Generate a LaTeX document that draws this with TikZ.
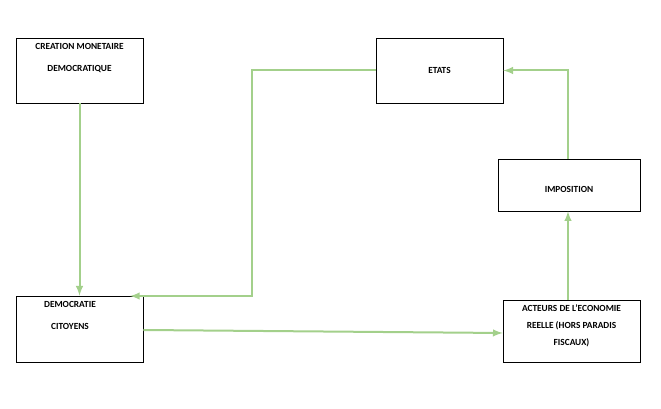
\documentclass[tikz,border=0pt]{standalone}
\usepackage{fontspec}
\setmainfont{Carlito}
\usetikzlibrary{positioning}
\definecolor{LINKGREEN}{HTML}{A3D08B}
\tikzset{
	box/.style = {draw=black, thin, fill=white, inner sep=0pt},
	txt/.style = {font=\fontsize{7}{16.5}\selectfont\bfseries, align=center, inner sep=0pt},
	link/.style = {draw=LINKGREEN, line width=1.5pt, -latex}
}
\begin{document}
\begin{tikzpicture}[x=0.75pt, y=-0.75pt]
		\useasboundingbox (0,0) rectangle (661,409);
		% boxes
		\node[box, minimum width=127*0.75pt, minimum height=65*0.75pt] (creation) at (79.5,70.5) {};
		\node[box, minimum width=127*0.75pt, minimum height=65*0.75pt] (etats) at (439.5,70.5) {};
		\node[box, minimum width=142*0.75pt, minimum height=52*0.75pt] (imposition) at (569,185) {};
		\node[box, minimum width=127*0.75pt, minimum height=66*0.75pt] (democratie) at (79.5,329) {};
		\node[box, minimum width=137*0.75pt, minimum height=62*0.75pt] (acteurs) at (571.5,331) {};
		% texts
		\node[txt, anchor=north] (creationtxt) at (79.5,43) {CREATION MONETAIRE\\DEMOCRATIQUE};
		\node[txt] (etatstxt) at (439.5,70) {ETATS};
		\node[txt] (impositiontxt) at (569,189) {IMPOSITION};
		\node[txt, anchor=north] (democratietxt) at (70,301) {DEMOCRATIE\\CITOYENS};
		\node[txt, font=\fontsize{7}{13}\selectfont\bfseries, anchor=north] (acteurstxt) at (571.5,304) {ACTEURS DE L’ECONOMIE\\REELLE (HORS PARADIS\\FISCAUX)};
		% links
		\draw[link] (creation.south) -- (democratie.north -| creation.south);
		\draw[link] (etats.west) -- (252,70.5) -- (252,296) -- (130,296);
		\draw[link] (democratie.east |- 0,330) -- (acteurs.west |- 0,333);
		\draw[link] (acteurs.north -| 568,0) -- (imposition.south -| 568,0);
		\draw[link] (imposition.north -| 568,0) -- (568,70.5) -- (etats.east);
\end{tikzpicture}
\end{document}
